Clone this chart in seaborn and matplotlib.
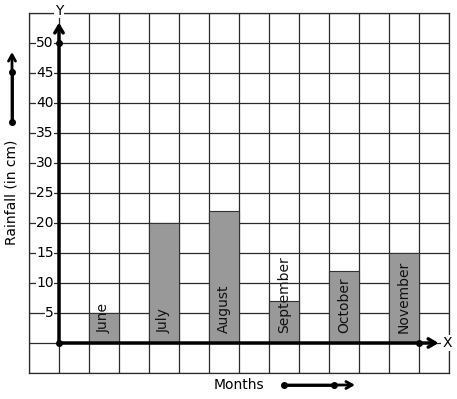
import matplotlib
matplotlib.use("Agg")
import matplotlib.pyplot as plt
import seaborn as sns

MONTHS = ["June", "July", "August", "September", "October", "November"]
RAINFALL = [5, 20, 22, 7, 12, 15]
Y_TICKS = [5, 10, 15, 20, 25, 30, 35, 40, 45, 50]

BAR_COLOR = "#999999"
GRID_COLOR = "#2a2a2a"

fig = plt.figure(figsize=(4.57, 3.99), dpi=100)
ax = fig.add_axes([29 / 457, 26 / 399, 420 / 457, 360 / 399])

# bars sit in every second grid column, starting at column 1
positions = [1.5 + 2 * i for i in range(len(MONTHS))]
sns.barplot(
    x=positions,
    y=RAINFALL,
    native_scale=True,
    width=0.5,
    color=BAR_COLOR,
    saturation=1,
    edgecolor="#333333",
    linewidth=0.8,
    ax=ax,
    zorder=2,
)

ax.set_xlim(-1, 13)
ax.set_ylim(-5, 55)
ax.set_xticks(range(-1, 14))
ax.set_yticks(range(-5, 56, 5))
ax.tick_params(length=0, labelbottom=False, labelleft=False)
ax.grid(True, color=GRID_COLOR, linewidth=0.9)
ax.set_axisbelow(True)
for sp in ax.spines.values():
    sp.set_color(GRID_COLOR)
    sp.set_linewidth(0.9)
ax.set_xlabel("")
ax.set_ylabel("")

# month names inside the bars
for x, name in zip(positions, MONTHS):
    ax.text(x, 1.6, name, rotation=90, ha="center", va="bottom",
            fontsize=10, color="#111111", zorder=4)

# y tick labels drawn over the grid
for v in Y_TICKS:
    ax.text(-0.17, v, str(v), ha="right", va="center", fontsize=10,
            bbox=dict(facecolor="white", edgecolor="none", pad=0.3), zorder=4)

# axes with arrows
arrow = "->,head_length=0.5,head_width=0.3"
ax.annotate("", xy=(0, 53.4), xytext=(0, 0),
            arrowprops=dict(arrowstyle=arrow, lw=2.5, color="black",
                            shrinkA=0, shrinkB=0), zorder=5, annotation_clip=False)
ax.annotate("", xy=(12.65, 0), xytext=(0, 0),
            arrowprops=dict(arrowstyle=arrow, lw=2.5, color="black",
                            shrinkA=0, shrinkB=0), zorder=5, annotation_clip=False)
ax.plot([0, 0, 12], [0, 50, 0], "o", color="black", ms=4, zorder=6, clip_on=False)
ax.text(0, 55.4, "Y", ha="center", va="center", fontsize=10,
        bbox=dict(facecolor="white", edgecolor="none", pad=0.5), zorder=6)
ax.text(12.93, 0, "X", ha="center", va="center", fontsize=10,
        bbox=dict(facecolor="white", edgecolor="none", pad=0.5), zorder=6)

# outside labels and direction arrows (figure pixels, origin bottom-left)
H = 399
fig.text(12 / 457, (H - 192) / H, "Rainfall (in cm)", rotation=90,
         ha="center", va="center", fontsize=10)
fig.text(239 / 457, (H - 385) / H, "Months", ha="center", va="center", fontsize=10)

small = "->,head_length=0.45,head_width=0.25"
fig.add_artist(plt.Line2D([12 / 457, 12 / 457], [(H - 122) / H, (H - 72) / H],
                          color="black", lw=2, marker="o", ms=4))
ax.annotate("", xy=(12, H - 52), xytext=(12, H - 122), xycoords="figure pixels",
            textcoords="figure pixels",
            arrowprops=dict(arrowstyle=small, lw=2, color="black", shrinkA=0, shrinkB=0))
fig.add_artist(plt.Line2D([284 / 457, 334 / 457], [(H - 385) / H, (H - 385) / H],
                          color="black", lw=2, marker="o", ms=4))
ax.annotate("", xy=(355, H - 385), xytext=(284, H - 385), xycoords="figure pixels",
            textcoords="figure pixels",
            arrowprops=dict(arrowstyle=small, lw=2, color="black", shrinkA=0, shrinkB=0))

fig.savefig("out.png", dpi=100, facecolor="white")
